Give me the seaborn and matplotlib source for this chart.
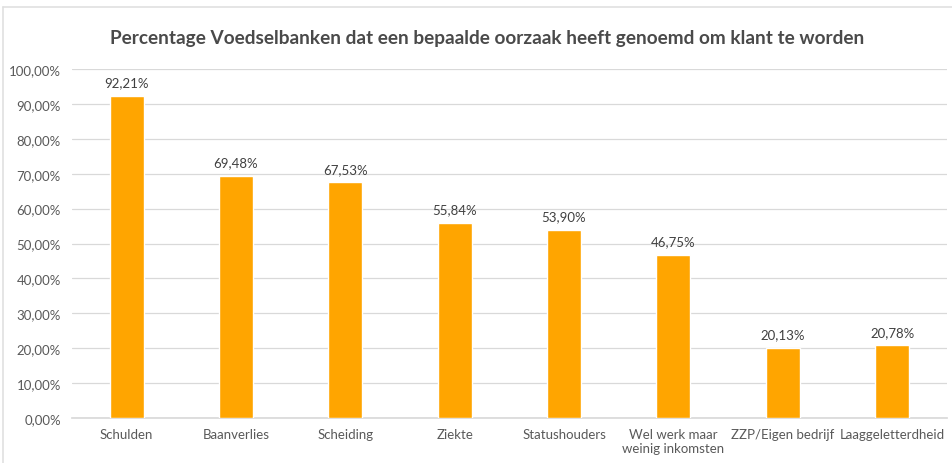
import matplotlib
matplotlib.use("Agg")
import matplotlib.pyplot as plt
import seaborn as sns
import pandas as pd
from matplotlib.lines import Line2D
from matplotlib.ticker import FuncFormatter

categories = ["Schulden", "Baanverlies", "Scheiding", "Ziekte", "Statushouders",
              "Wel werk maar\nweinig inkomsten", "ZZP/Eigen bedrijf", "Laaggeletterdheid"]
values = [92.21, 69.48, 67.53, 55.84, 53.90, 46.75, 20.13, 20.78]
title = "Percentage Voedselbanken dat een bepaalde oorzaak heeft genoemd om klant te worden"

sns.set_theme(style="white")
plt.rcParams["font.family"] = ["Lato", "DejaVu Sans"]

df = pd.DataFrame({"oorzaak": categories, "pct": values})

fig = plt.figure(figsize=(9.53, 4.64), dpi=100)
ax = fig.add_axes([0.0755, 0.097, 0.918, 0.752])

sns.barplot(data=df, x="oorzaak", y="pct", color="#FFA500", width=0.31,
            saturation=1, ax=ax, zorder=3)

ax.set_ylim(0, 100)
ax.set_yticks(range(0, 101, 10))
ax.yaxis.set_major_formatter(FuncFormatter(lambda v, p: f"{v:.2f}%".replace(".", ",")))
ax.grid(axis="y", color="#d9d9d9", linewidth=0.9, zorder=0)
for s in ["top", "right", "left"]:
    ax.spines[s].set_visible(False)
ax.spines["bottom"].set_color("#d9d9d9")
ax.tick_params(axis="both", length=0, colors="#595959", labelsize=9.5)
ax.tick_params(axis="x", pad=7)
ax.tick_params(axis="y", pad=8)
ax.set_xlabel("")
ax.set_ylabel("")

for i, v in enumerate(values):
    ax.text(i, v + 2.2, f"{v:.2f}%".replace(".", ","), ha="center", va="bottom",
            fontsize=9.5, color="#404040")

fig.text(0.511, 0.918, title, ha="center", va="center", fontsize=13.7,
         fontweight="bold", color="#4a4a4a")

# outer chart frame (only top and left edges visible in the crop)
fig.lines.append(Line2D([0.003, 1.0], [0.983, 0.983], transform=fig.transFigure,
                        color="#e0e0e0", linewidth=1.2))
fig.lines.append(Line2D([0.003, 0.003], [0.0, 0.983], transform=fig.transFigure,
                        color="#e0e0e0", linewidth=1.2))

fig.savefig("out.png", dpi=100)
